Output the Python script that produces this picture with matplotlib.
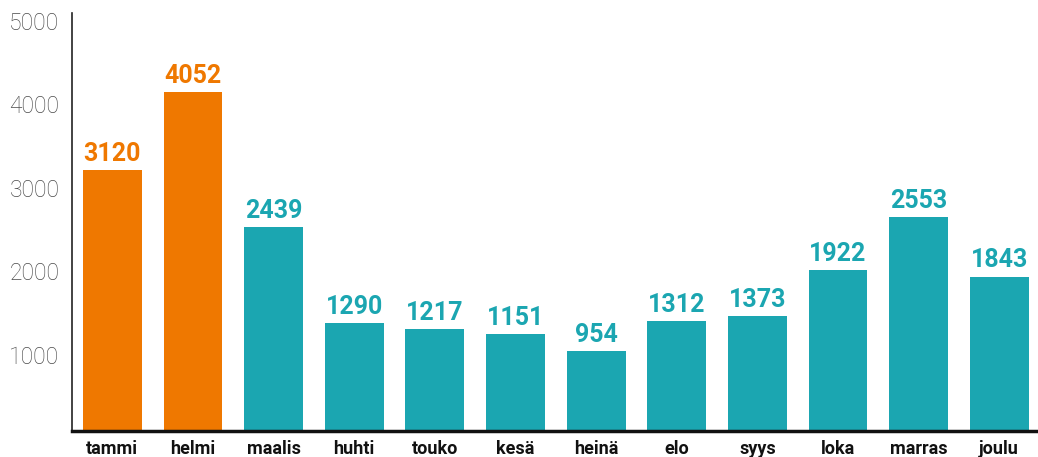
import matplotlib
matplotlib.use("Agg")
import matplotlib.pyplot as plt
from matplotlib.transforms import ScaledTranslation

months = ["tammi", "helmi", "maalis", "huhti", "touko", "kesä", "heinä", "elo", "syys", "loka", "marras", "joulu"]
values = [3120, 4052, 2439, 1290, 1217, 1151, 954, 1312, 1373, 1922, 2553, 1843]
highlight = [True, True, False, False, False, False, False, False, False, False, False, False]
yticks = [1000, 2000, 3000, 4000, 5000]

ORANGE = "#EF7800"
TEAL = "#1BA6B1"

plt.rcParams["font.family"] = ["Roboto", "DejaVu Sans"]

fig = plt.figure(figsize=(10.38, 4.57), dpi=100)
ax = fig.add_axes([72 / 1038, 26.3 / 457, 1 - 72 / 1038, (444.3 - 26.3) / 457])

colors = [ORANGE if h else TEAL for h in highlight]
x = list(range(len(months)))
bars = ax.bar(x, values, width=0.73, color=colors, zorder=2)

for xi, v, c in zip(x, values, colors):
    ax.annotate(str(v), (xi, v), xytext=(0, 3), textcoords="offset points",
                ha="center", va="bottom", fontsize=18, fontweight="bold", color=c)

ax.set_xlim(-0.5, 11.48)
ax.set_ylim(0, 5000)
ax.set_yticks(yticks)
ax.set_yticklabels([str(t) for t in yticks], fontsize=16.5, color="#4a4a4a", fontweight="light")
ax.set_xticks(x)
ax.set_xticklabels(months, fontsize=13, fontweight="bold", color="#111111")
ax.tick_params(axis="y", length=0, pad=9)
ax.tick_params(axis="x", length=0, pad=7)

off = ScaledTranslation(0, -8 / 100, fig.dpi_scale_trans)
for lab in ax.get_yticklabels():
    lab.set_transform(lab.get_transform() + off)

for s in ["top", "right"]:
    ax.spines[s].set_visible(False)
ax.spines["left"].set_linewidth(1.2)
ax.spines["left"].set_color("#222222")
ax.spines["bottom"].set_linewidth(2.5)
ax.spines["bottom"].set_color("#111111")

fig.savefig("out.png", dpi=100)
